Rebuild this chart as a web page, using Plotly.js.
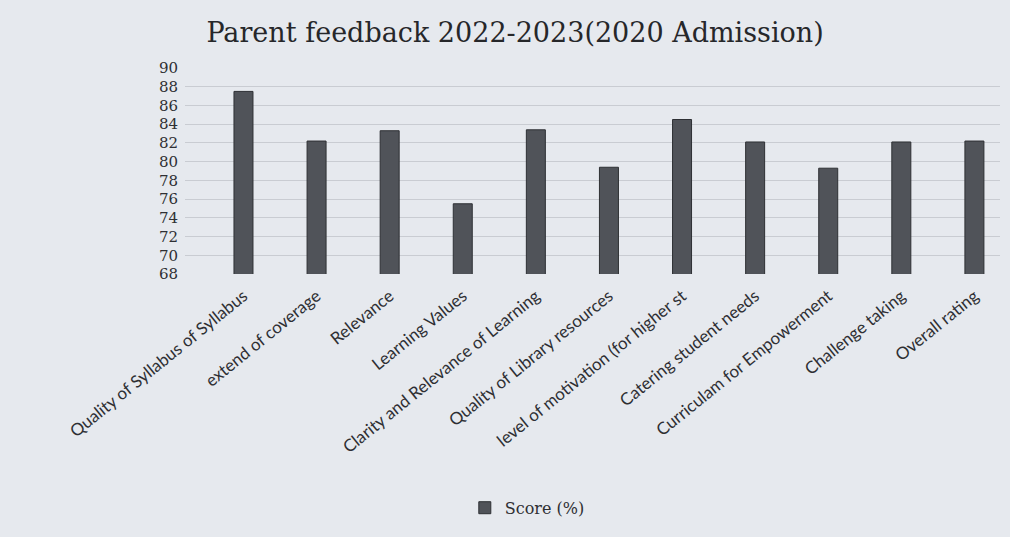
<!DOCTYPE html>
<html>
<head>
<meta charset="utf-8">
<script src="https://cdn.plot.ly/plotly-3.0.1.min.js"></script>
<style>html,body{margin:0;padding:0;background:#e6e9ee;}#chart{width:1010px;height:537px;}</style>
</head>
<body>
<div id="chart"></div>
<script>
const categories = [
  "Quality of Syllabus of Syllabus",
  "extend of coverage",
  "Relevance",
  "Learning Values",
  "Clarity and Relevance of Learning",
  "Quality of Library resources",
  "level of motivation (for higher st",
  "Catering student needs",
  "Curriculam for Empowerment",
  "Challenge taking",
  "Overall rating"
];
const scores = [87.5, 82.2, 83.3, 75.5, 83.4, 79.4, 84.5, 82.1, 79.3, 82.1, 82.2];
const seriesName = "Score (%)";
const yTicks = [68, 70, 72, 74, 76, 78, 80, 82, 84, 86, 88, 90];

const trace = {
  type: "bar",
  x: categories,
  y: scores,
  name: seriesName,
  marker: {color: "#505359", line: {color: "#2e3034", width: 1}},
  showlegend: true
};

const layout = {
  width: 1010, height: 537,
  paper_bgcolor: "#e6e9ee",
  plot_bgcolor: "rgba(0,0,0,0)",
  margin: {l: 185, r: 10, t: 68, b: 263},
  title: {text: "Parent feedback 2022-2023(2020 Admission)", x: 0.51, xanchor: "center", y: 0.94, yanchor: "middle",
          font: {family: "DejaVu Serif, serif", size: 27, color: "#26272a"}},
  bargap: 0.74,
  xaxis: {
    type: "category",
    range: [-0.8, 10.35],
    tickangle: -39,
    tickfont: {family: "Lato, Open Sans, sans-serif", size: 17, color: "#2e2f33"},
    showgrid: false, zeroline: false, showline: false, ticks: "",
    ticklabelstandoff: 8
  },
  yaxis: {
    range: [68, 90],
    tickvals: yTicks,
    ticktext: yTicks.map(String),
    tickfont: {family: "DejaVu Serif, serif", size: 15, color: "#2e2f33"},
    showgrid: true, gridcolor: "#c9ccd2", gridwidth: 1,
    zeroline: false, showline: false, ticks: "",
    ticklabelstandoff: 6
  },
  legend: {
    orientation: "h", x: 0.42, xanchor: "center", y: -1.135, yanchor: "middle",
    font: {family: "DejaVu Serif, serif", size: 16, color: "#2e2f33"},
    bgcolor: "rgba(0,0,0,0)"
  }
};

Plotly.newPlot("chart", [trace], layout, {displayModeBar: false, staticPlot: true});
</script>
</body>
</html>
